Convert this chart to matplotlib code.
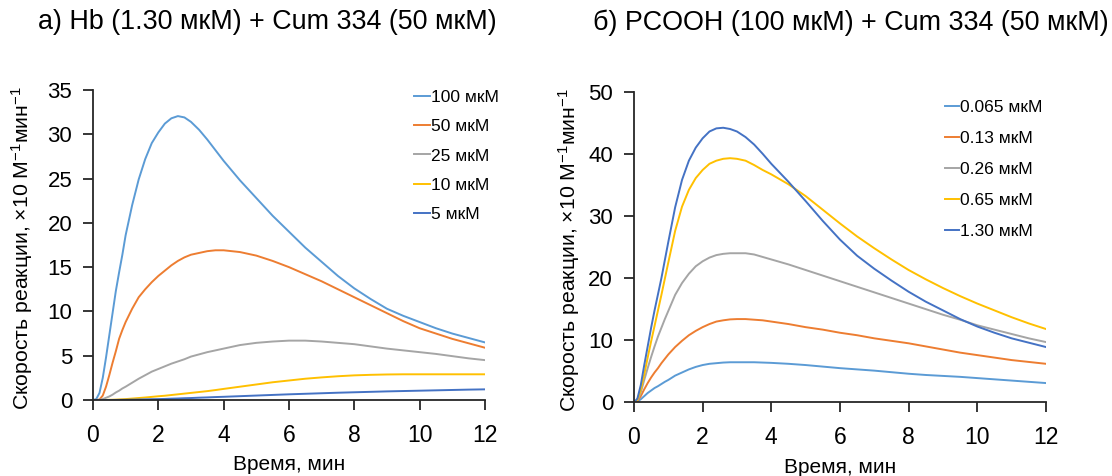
import matplotlib
matplotlib.use("Agg")
import matplotlib.pyplot as plt

plt.rcParams["font.family"] = ["Liberation Sans", "DejaVu Sans"]
plt.rcParams["mathtext.fontset"] = "custom"
plt.rcParams["mathtext.rm"] = "Liberation Sans"
plt.rcParams["mathtext.it"] = "Liberation Sans:italic"

# ---- data ----
time_min = [0, 0.1, 0.2, 0.3, 0.4, 0.5, 0.6, 0.7, 0.8, 0.9, 1.0, 1.2, 1.4, 1.6, 1.8,
            2.0, 2.2, 2.4, 2.6, 2.8, 3.0, 3.25, 3.5, 3.75, 4.0,
            4.5, 5, 5.5, 6, 6.5, 7, 7.5, 8, 8.5, 9, 9.5, 10, 10.5, 11, 11.5, 12]

# a) Hb + Cum 334, different PCOOH
hb_labels = ["100 мкМ", "50 мкМ", "25 мкМ", "10 мкМ", "5 мкМ"]
hb_100 = [0, 0.1, 0.8, 2.5, 4.8, 7.3, 9.8, 12.3, 14.4, 16.4, 18.6, 22.0, 24.9, 27.2, 29.0,
          30.2, 31.2, 31.8, 32.05, 31.9, 31.4, 30.5, 29.4, 28.2, 27.0,
          24.8, 22.8, 20.8, 19.0, 17.2, 15.6, 14.0, 12.6, 11.4, 10.3, 9.5, 8.8, 8.1, 7.5, 7.0, 6.5]
hb_50 = [0, 0, 0.05, 0.5, 1.5, 2.8, 4.2, 5.5, 6.9, 7.9, 8.8, 10.3, 11.6, 12.5, 13.3,
         14.0, 14.6, 15.2, 15.7, 16.1, 16.4, 16.6, 16.8, 16.9, 16.9,
         16.7, 16.3, 15.7, 15.0, 14.2, 13.4, 12.5, 11.6, 10.7, 9.8, 8.9, 8.1, 7.5, 6.9, 6.4, 5.9]
hb_25 = [0, 0, 0.02, 0.1, 0.25, 0.4, 0.6, 0.85, 1.05, 1.3, 1.5, 1.95, 2.4, 2.8, 3.2,
         3.5, 3.8, 4.1, 4.35, 4.6, 4.9, 5.15, 5.4, 5.6, 5.8,
         6.2, 6.45, 6.6, 6.7, 6.7, 6.6, 6.45, 6.3, 6.05, 5.8, 5.6, 5.4, 5.2, 4.95, 4.7, 4.5]
hb_10 = [0, 0, 0, 0, 0.01, 0.02, 0.03, 0.04, 0.06, 0.08, 0.1, 0.16, 0.22, 0.28, 0.35,
         0.42, 0.48, 0.56, 0.64, 0.72, 0.8, 0.9, 1.0, 1.12, 1.25,
         1.5, 1.75, 2.0, 2.2, 2.4, 2.55, 2.68, 2.78, 2.84, 2.88, 2.9, 2.9, 2.9, 2.9, 2.9, 2.9]
hb_5 = [0, 0, 0, 0, 0, 0, 0, 0.005, 0.01, 0.015, 0.02, 0.04, 0.05, 0.07, 0.09,
        0.1, 0.12, 0.15, 0.17, 0.2, 0.22, 0.26, 0.29, 0.33, 0.36,
        0.43, 0.5, 0.57, 0.64, 0.7, 0.76, 0.82, 0.87, 0.92, 0.97, 1.01, 1.05, 1.09, 1.13, 1.17, 1.2]

# б) PCOOH + Cum 334, different Hb
pc_labels = ["0.065 мкМ", "0.13 мкМ", "0.26 мкМ", "0.65 мкМ", "1.30 мкМ"]
pc_0065 = [0, 0.1, 0.5, 1.0, 1.5, 1.9, 2.3, 2.6, 2.95, 3.3, 3.6, 4.3, 4.8, 5.3, 5.7,
           6.0, 6.2, 6.3, 6.4, 6.45, 6.45, 6.45, 6.45, 6.4, 6.35,
           6.2, 6.0, 5.75, 5.5, 5.3, 5.1, 4.85, 4.6, 4.4, 4.25, 4.1, 3.9, 3.7, 3.5, 3.3, 3.1]
pc_013 = [0, 0.2, 1.0, 2.1, 3.1, 4.0, 4.8, 5.5, 6.3, 7.0, 7.7, 8.9, 9.9, 10.8, 11.5,
          12.1, 12.6, 13.0, 13.2, 13.35, 13.4, 13.4, 13.3, 13.2, 13.0,
          12.6, 12.1, 11.7, 11.2, 10.8, 10.3, 9.9, 9.5, 9.0, 8.5, 8.0, 7.6, 7.2, 6.8, 6.5, 6.2]
pc_026 = [0, 0.3, 1.6, 3.6, 5.5, 7.3, 9.0, 10.6, 12.0, 13.4, 14.7, 17.3, 19.2, 20.7, 21.9,
          22.7, 23.3, 23.7, 23.9, 24.0, 24.0, 24.0, 23.8, 23.4, 23.0,
          22.2, 21.3, 20.4, 19.5, 18.6, 17.7, 16.8, 15.9, 15.0, 14.1, 13.3, 12.4, 11.7, 11.0, 10.3, 9.7]
pc_065 = [0, 0.4, 2.0, 4.5, 7.2, 9.8, 12.3, 14.8, 17.3, 19.9, 22.5, 27.6, 31.5, 34.2, 36.1,
          37.4, 38.4, 38.9, 39.2, 39.3, 39.2, 38.9, 38.2, 37.4, 36.7,
          35.1, 33.2, 31.0, 28.8, 26.7, 24.8, 23.0, 21.3, 19.8, 18.4, 17.1, 15.9, 14.8, 13.7, 12.7, 11.8]
pc_130 = [0, 0.6, 2.8, 6.0, 9.0, 12.0, 14.8, 17.4, 20.0, 22.9, 25.8, 31.4, 35.8, 38.9, 41.0,
          42.5, 43.6, 44.1, 44.2, 44.0, 43.6, 42.7, 41.5, 40.0, 38.4,
          35.5, 32.4, 29.2, 26.2, 23.6, 21.5, 19.6, 17.8, 16.2, 14.8, 13.4, 12.2, 11.2, 10.3, 9.6, 8.9]

colors = ["#5B9BD5", "#ED7D31", "#A5A5A5", "#FFC000", "#4472C4"]

ylabel = "Скорость реакции, ×10 М$^{-1}$мин$^{-1}$"


def style_axes(ax, ymax, ystep, ylab_x):
    ax.set_xlim(0, 12)
    ax.set_ylim(0, ymax)
    ax.set_xticks(range(0, 13, 2))
    ax.set_yticks(range(0, ymax + 1, ystep))
    for s in ["top", "right"]:
        ax.spines[s].set_visible(False)
    for s in ["left", "bottom"]:
        ax.spines[s].set_color("#262626")
        ax.spines[s].set_linewidth(1.3)
    ax.tick_params(direction="out", length=7, width=1.3, color="#262626")
    ax.tick_params(axis="x", labelsize=16.5, pad=10)
    ax.tick_params(axis="y", labelsize=16, pad=8)
    ax.set_xlabel("Время, мин", fontsize=15)
    ax.set_ylabel(ylabel, fontsize=15.3)
    ax.xaxis.set_label_coords(0.5, -0.178)
    ax.yaxis.set_label_coords(ylab_x, 0.49)


fig = plt.figure(figsize=(11.12, 4.76), dpi=100)
ax1 = fig.add_axes([0.0836, 0.1597, 0.3525, 0.6513])
ax2 = fig.add_axes([0.5701, 0.1548, 0.3705, 0.6525])

for vals, lab, c in zip([hb_100, hb_50, hb_25, hb_10, hb_5], hb_labels, colors):
    ax1.plot(time_min, vals, color=c, lw=1.4, label=lab)
for vals, lab, c in zip([pc_0065, pc_013, pc_026, pc_065, pc_130], pc_labels, colors):
    ax2.plot(time_min, vals, color=c, lw=1.4, label=lab)

style_axes(ax1, 35, 5, -0.148)
style_axes(ax2, 50, 10, -0.126)

ax1.legend(loc="upper left", bbox_to_anchor=(0.82, 1.0), frameon=False, fontsize=12.5,
           handlelength=0.9, handletextpad=0.05, labelspacing=0.81, borderpad=0,
           borderaxespad=0)
ax2.legend(loc="upper left", bbox_to_anchor=(0.755, 0.975), frameon=False, fontsize=12.5,
           handlelength=0.8, handletextpad=0.05, labelspacing=0.92, borderpad=0,
           borderaxespad=0)

fig.text(0.240, 0.953, "а) Hb (1.30 мкМ) + Cum 334 (50 мкМ)", fontsize=19.4,
         ha="center", va="center")
fig.text(0.765, 0.953, "б) PCOOH (100 мкМ) + Cum 334 (50 мкМ)", fontsize=19.4,
         ha="center", va="center")

fig.savefig("out.png", dpi=100)
